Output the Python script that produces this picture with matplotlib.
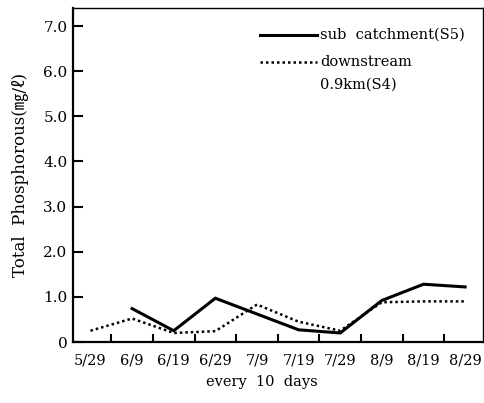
import matplotlib
matplotlib.use("Agg")
import matplotlib.pyplot as plt
import numpy as np

plt.rcParams['font.family'] = ['DejaVu Serif', 'Noto Sans CJK JP']

dates = ["5/29", "6/9", "6/19", "6/29", "7/9", "7/19", "7/29", "8/9", "8/19", "8/29"]
sub_catchment = [np.nan, 0.74, 0.25, 0.97, 0.62, 0.27, 0.2, 0.92, 1.28, 1.22]
downstream = [0.25, 0.52, 0.2, 0.24, 0.83, 0.45, 0.25, 0.88, 0.9, 0.9]
yticks = [0, 1, 2, 3, 4, 5, 6, 7]
ytick_labels = ["0", "1.0", "2.0", "3.0", "4.0", "5.0", "6.0", "7.0"]

fig = plt.figure(figsize=(4.84, 4.03), dpi=100)
ax = fig.add_axes([73/484, 61/403, 410/484, 334/403])
x = np.arange(len(dates))
ax.plot(x, sub_catchment, color='black', lw=2.2, solid_joinstyle='miter')
ax.plot(x, downstream, color='black', lw=1.8, linestyle=(0, (1, 1.2)))

ax.set_xlim(-0.42, 9.43)
ax.set_ylim(0, 7.4)
ax.set_yticks(yticks)
ax.set_yticklabels(ytick_labels, fontsize=11)
ax.set_xticks(x)
ax.set_xticklabels(dates, fontsize=10.5)
ax.tick_params(axis='x', which='major', length=0, pad=8)
ax.set_xticks(x[:-1] + 0.5, minor=True)
ax.tick_params(axis='x', which='minor', direction='in', length=6, width=1.5)
ax.tick_params(axis='y', direction='in', length=7, width=1.5, pad=4)
for s in ax.spines.values():
    s.set_linewidth(1.0)
ax.spines['left'].set_linewidth(1.6)
ax.spines['bottom'].set_linewidth(1.6)

ax.set_ylabel("Total  Phosphorous(㎎/ℓ)", fontsize=12, labelpad=10)
ax.set_xlabel("every  10  days", fontsize=10.5)
ax.xaxis.set_label_coords(0.46, -0.10)

# legend drawn manually in axes coordinates
ax.plot([0.456, 0.595], [0.919, 0.919], transform=ax.transAxes, color='black', lw=2.2)
ax.plot([0.456, 0.595], [0.838, 0.838], transform=ax.transAxes, color='black', lw=1.8, linestyle=(0, (1, 1.2)))
ax.text(0.603, 0.919, "sub  catchment(S5)", transform=ax.transAxes, fontsize=10.5, va='center')
ax.text(0.603, 0.838, "downstream", transform=ax.transAxes, fontsize=10.5, va='center')
ax.text(0.603, 0.769, "0.9km(S4)", transform=ax.transAxes, fontsize=10.5, va='center')

fig.savefig("out.png", dpi=100)
